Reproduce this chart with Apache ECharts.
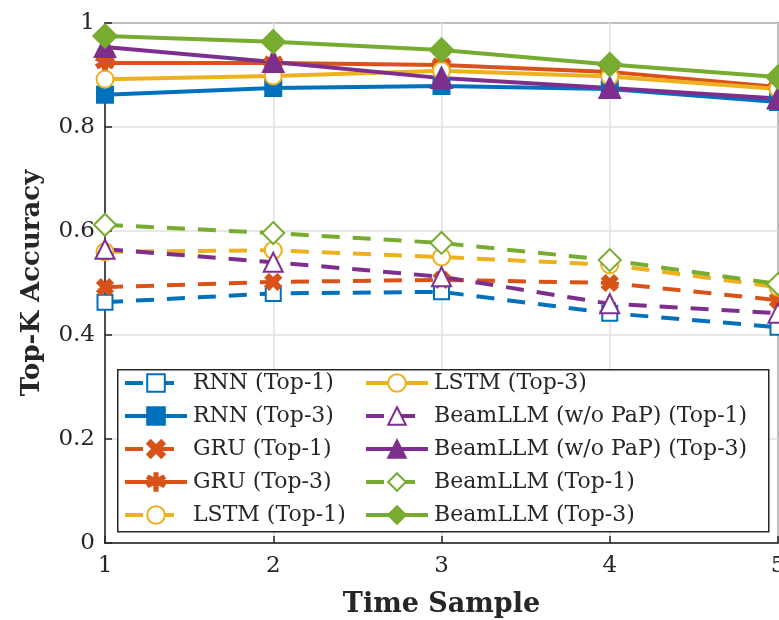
<!DOCTYPE html>
<html>
<head>
<meta charset="utf-8">
<script src="https://cdn.jsdelivr.net/npm/echarts@6/dist/echarts.min.js"></script>
<style>html,body{margin:0;padding:0;background:#fff;}#c{width:779px;height:620px;}</style>
</head>
<body>
<div id="c"></div>
<script>
// ---- data ----
var timeSamples = [1, 2, 3, 4, 5];
var yTickLabels = ['0', '0.2', '0.4', '0.6', '0.8', '1'];
var rnnTop1 = [0.463, 0.480, 0.483, 0.442, 0.415];
var rnnTop3 = [0.862, 0.875, 0.879, 0.873, 0.848];
var gruTop1 = [0.492, 0.502, 0.506, 0.500, 0.467];
var gruTop3 = [0.923, 0.923, 0.919, 0.906, 0.877];
var lstmTop1 = [0.560, 0.563, 0.550, 0.535, 0.492];
var lstmTop3 = [0.892, 0.898, 0.908, 0.897, 0.873];
var beamNoPapTop1 = [0.565, 0.540, 0.512, 0.460, 0.442];
var beamNoPapTop3 = [0.954, 0.925, 0.894, 0.875, 0.855];
var beamTop1 = [0.612, 0.596, 0.577, 0.544, 0.498];
var beamTop3 = [0.975, 0.964, 0.948, 0.920, 0.896];

var C = { blue: '#0072BD', orange: '#D95319', yellow: '#EDB120', purple: '#7E2F8E', green: '#77AC30' };
var xSym = 'path://M2,0L5,3L8,0L10,2L7,5L10,8L8,10L5,7L2,10L0,8L3,5L0,2Z';
var starSym = 'path://M4.2,0L5.8,0L5.8,3.1L8.6,1.5L9.4,2.9L6.6,4.6L9.4,6.3L8.6,7.7L5.8,6.1L5.8,10L4.2,10L4.2,6.1L1.4,7.7L0.6,6.3L3.4,4.6L0.6,2.9L1.4,1.5L4.2,3.1Z';

function pairs(vals) { return timeSamples.map(function (t, i) { return [t, vals[i]]; }); }
function mk(name, vals, color, symbol, dashed, size) {
  return {
    name: name, type: 'line', data: pairs(vals), symbol: symbol, symbolSize: size || 15,
    showAllSymbol: true,
    lineStyle: { color: color, width: 4, type: dashed ? [18, 13] : 'solid' },
    itemStyle: { color: color, borderColor: color, borderWidth: 3 },
    emphasis: { disabled: true }, animation: false
  };
}
var series = [
  mk('RNN (Top-1)', rnnTop1, C.blue, 'emptyRect', true, 15),
  mk('RNN (Top-3)', rnnTop3, C.blue, 'rect', false, 15),
  mk('GRU (Top-1)', gruTop1, C.orange, xSym, true, 14),
  mk('GRU (Top-3)', gruTop3, C.orange, starSym, false, 16),
  mk('LSTM (Top-1)', lstmTop1, C.yellow, 'emptyCircle', true, 17),
  mk('LSTM (Top-3)', lstmTop3, C.yellow, 'emptyCircle', false, 17),
  mk('BeamLLM (w/o PaP) (Top-1)', beamNoPapTop1, C.purple, 'emptyTriangle', true, 19),
  mk('BeamLLM (w/o PaP) (Top-3)', beamNoPapTop3, C.purple, 'triangle', false, 19),
  mk('BeamLLM (Top-1)', beamTop1, C.green, 'emptyDiamond', true, 22),
  mk('BeamLLM (Top-3)', beamTop3, C.green, 'diamond', false, 22)
];
var names = series.map(function (s) { return s.name; });
var font = 'DejaVu Serif';
var legendBase = {
  orient: 'vertical', top: 372, itemWidth: 62, itemHeight: 22, itemGap: 11,
  lineStyle: { width: 4 },
  textStyle: { fontFamily: font, fontSize: 22, color: '#262626', padding: [0, 0, 0, 1] },
  padding: 0, selectedMode: false, z: 10
};
var chart = echarts.init(document.getElementById('c'), null, { renderer: 'canvas' });
chart.setOption({
  backgroundColor: '#fff',
  animation: false,
  grid: { left: 105, right: 1, top: 23, bottom: 77, outerBoundsMode: 'none', containLabel: false,
    show: true, borderColor: '#262626', borderWidth: 1.5, backgroundColor: 'transparent' },
  xAxis: {
    type: 'value', min: 1, max: 5, interval: 1,
    name: 'Time Sample', nameLocation: 'middle', nameGap: 48,
    nameTextStyle: { fontFamily: font, fontSize: 27, fontWeight: 'bold', color: '#262626' },
    axisLine: { show: true, lineStyle: { color: '#262626', width: 1.5 } },
    axisTick: { show: true, inside: true, length: 7, lineStyle: { color: '#262626', width: 1.5 } },
    axisLabel: { fontFamily: font, fontSize: 23, color: '#262626', margin: 12, hideOverlap: false },
    splitLine: { show: true, lineStyle: { color: '#e0e0e0', width: 1.5 } }
  },
  yAxis: {
    type: 'value', min: 0, max: 1, interval: 0.2,
    name: 'Top-K Accuracy', nameLocation: 'middle', nameGap: 60,
    nameTextStyle: { fontFamily: font, fontSize: 26, fontWeight: 'bold', color: '#262626' },
    axisLine: { show: true, lineStyle: { color: '#262626', width: 1.5 } },
    axisTick: { show: true, inside: true, length: 7, lineStyle: { color: '#262626', width: 1.5 } },
    axisLabel: { fontFamily: font, fontSize: 23, color: '#262626', margin: 10,
      formatter: function (v) { return yTickLabels[Math.round(v / 0.2)]; } },
    splitLine: { show: true, lineStyle: { color: '#e0e0e0', width: 1.5 } }
  },
  legend: [
    Object.assign({}, legendBase, { left: 123, data: names.slice(0, 5) }),
    Object.assign({}, legendBase, { left: 364, data: names.slice(5) })
  ],
  graphic: [{
    type: 'rect', z: 5, left: 117, top: 369,
    shape: { width: 651, height: 162 },
    style: { fill: '#fff', stroke: '#262626', lineWidth: 1.5 }
  }],
  series: series
});
</script>
</body>
</html>
